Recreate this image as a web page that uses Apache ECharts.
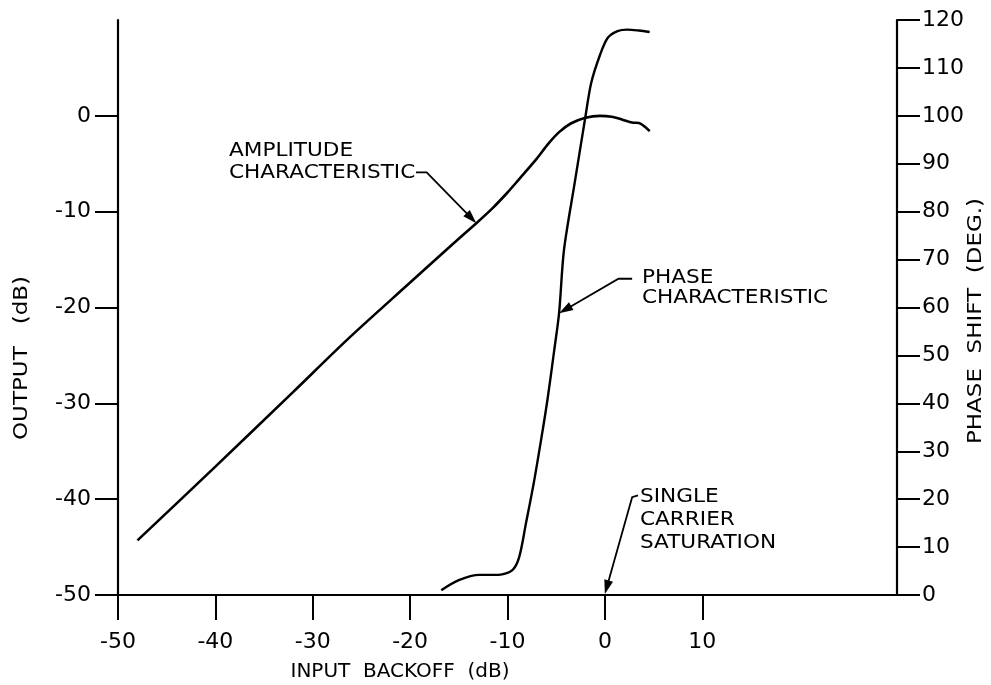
<!DOCTYPE html>
<html>
<head>
<meta charset="utf-8">
<script src="https://cdn.jsdelivr.net/npm/echarts@6/dist/echarts.min.js"></script>
<style>
  html, body { margin: 0; padding: 0; background: #fff; }
  #main { width: 991px; height: 685px; }
</style>
</head>
<body>
<div id="main"></div>
<script>
// ---- data ----
const xTickValues = [-50, -40, -30, -20, -10, 0, 10];
const leftTickValues = [-50, -40, -30, -20, -10, 0];
const rightTickValues = [0, 10, 20, 30, 40, 50, 60, 70, 80, 90, 100, 110, 120];

const amplitudeX = [-48, -40, -32, -26.4, -20, -16.3, -13.2, -11.5, -10, -8.8, -7.1, -5.8, -4.7, -3.5, -2.0, -0.5, 0.7, 1.8, 2.8, 3.5, 4.6];
const amplitudeY = [-44.3, -36.6, -28.8, -23.3, -17.4, -14.0, -11.2, -9.6, -8.0, -6.6, -4.6, -2.9, -1.7, -0.8, -0.2, 0.0, -0.1, -0.4, -0.7, -0.75, -1.6];

const phaseX = [-16.8, -15.0, -12.9, -10.9, -9.5, -8.8, -8.1, -7.3, -6.5, -5.9, -5.2, -4.7, -4.2, -3.1, -2.0, -1.4, -0.5, 0.3, 1.3, 2.3, 3.5, 4.6];
const phaseY = [1.0, 3.1, 4.2, 4.2, 5.2, 7.9, 15.0, 23.4, 33.0, 40.7, 51.1, 58.9, 72.0, 86.0, 99.8, 106.9, 112.7, 116.3, 117.7, 118.0, 117.8, 117.5];

const xTitle = 'INPUT  BACKOFF  (dB)';
const leftTitle = 'OUTPUT   (dB)';
const rightTitle = 'PHASE  SHIFT  (DEG.)';

// annotations: text lines and leader paths in data coordinates (x, left-axis y)
const ampLabel = ['AMPLITUDE', 'CHARACTERISTIC'];
const ampLeader = [[-19.4, -5.9], [-18.3, -5.9], [-13.2, -11.2]];
const ampTextPos = [-38.6, -3.65, -5.95];

const phaseLabel = ['PHASE', 'CHARACTERISTIC'];
const phaseLeader = [[2.8, -17.0], [1.4, -17.0], [-4.7, -20.6]];
const phaseTextPos = [3.8, -16.9, -19.0];

const satLabel = ['SINGLE', 'CARRIER', 'SATURATION'];
const satLeader = [[3.4, -39.6], [2.8, -39.8], [0, -49.9]];
const satTextPos = [3.6, -39.8, -42.2, -44.6];

// ---- chart ----
const FONT = '"DejaVu Sans", "Liberation Sans", sans-serif';
const chart = echarts.init(document.getElementById('main'), null, { renderer: 'canvas' });

const axisLineStyle = { color: '#000', width: 2.2 };
const tickLineStyle = { color: '#000', width: 2 };
const labelStyle = { color: '#000', fontSize: 22, fontFamily: FONT };

chart.setOption({
  animation: false,
  backgroundColor: '#fff',
  grid: { left: 118, right: 94, top: 20, bottom: 90 },
  xAxis: {
    type: 'value', min: -50, max: 30, interval: 10,
    axisLine: { show: true, onZero: false, lineStyle: axisLineStyle },
    axisTick: { show: true, customValues: xTickValues, length: 25, lineStyle: tickLineStyle },
    axisLabel: Object.assign({ customValues: xTickValues, margin: 36 }, labelStyle),
    splitLine: { show: false }
  },
  yAxis: [
    {
      type: 'value', position: 'left', min: -50, max: 10, interval: 10,
      axisLine: { show: true, onZero: false, lineStyle: axisLineStyle },
      axisTick: { show: true, customValues: leftTickValues, length: 23, lineStyle: tickLineStyle },
      axisLabel: Object.assign({ customValues: leftTickValues, margin: 27 }, labelStyle),
      splitLine: { show: false }
    },
    {
      type: 'value', position: 'right', min: 0, max: 120, interval: 10,
      axisLine: { show: true, onZero: false, lineStyle: axisLineStyle },
      axisTick: { show: true, customValues: rightTickValues, length: 23, lineStyle: tickLineStyle },
      axisLabel: Object.assign({ customValues: rightTickValues, margin: 25 }, labelStyle),
      splitLine: { show: false }
    }
  ],
  series: [
    {
      name: 'Amplitude characteristic', type: 'line', xAxisIndex: 0, yAxisIndex: 0,
      data: amplitudeX.map((x, i) => [x, amplitudeY[i]]),
      smooth: 0.3, showSymbol: false, silent: true,
      lineStyle: { color: '#000', width: 2.6 }
    },
    {
      name: 'Phase characteristic', type: 'line', xAxisIndex: 0, yAxisIndex: 1,
      data: phaseX.map((x, i) => [x, phaseY[i]]),
      smooth: 0.3, showSymbol: false, silent: true,
      lineStyle: { color: '#000', width: 2.4 }
    }
  ]
});

function px(p) { return chart.convertToPixel({ xAxisIndex: 0, yAxisIndex: 0 }, p); }

function leader(path) {
  const pts = path.map(px);
  const tip = pts[pts.length - 1];
  const prev = pts[pts.length - 2];
  const dx = tip[0] - prev[0], dy = tip[1] - prev[1];
  const len = Math.sqrt(dx * dx + dy * dy);
  const ux = dx / len, uy = dy / len;
  const L = 14, W = 4.5;
  const bx = tip[0] - ux * L, by = tip[1] - uy * L;
  const linePts = pts.slice(0, -1).concat([[bx + ux * 2, by + uy * 2]]);
  return [
    { type: 'polyline', silent: true, shape: { points: linePts }, style: { stroke: '#000', lineWidth: 1.8, fill: null } },
    { type: 'polygon', silent: true, shape: { points: [tip, [bx - uy * W, by + ux * W], [bx + uy * W, by - ux * W]] }, style: { fill: '#000' } }
  ];
}

function textLines(lines, pos) {
  const out = [];
  lines.forEach((t, i) => {
    const p = px([pos[0], pos[i + 1]]);
    out.push({ type: 'text', silent: true, x: p[0], y: p[1], scaleX: 1.08,
      style: { text: t, fill: '#000', font: '20px ' + FONT, align: 'left', verticalAlign: 'middle' } });
  });
  return out;
}

const g = [];
g.push(...leader(ampLeader), ...textLines(ampLabel, ampTextPos));
g.push(...leader(phaseLeader), ...textLines(phaseLabel, phaseTextPos));
g.push(...leader(satLeader), ...textLines(satLabel, satTextPos));

// axis titles
g.push({ type: 'text', silent: true, x: 400, y: 672,
  style: { text: xTitle, fill: '#000', font: '20px ' + FONT, align: 'center', verticalAlign: 'middle' } });
g.push({ type: 'text', silent: true, x: 22, y: 358, rotation: Math.PI / 2, scaleX: 1.15,
  style: { text: leftTitle, fill: '#000', font: '20px ' + FONT, align: 'center', verticalAlign: 'middle' } });
g.push({ type: 'text', silent: true, x: 976, y: 321, rotation: Math.PI / 2, scaleX: 1.15,
  style: { text: rightTitle, fill: '#000', font: '20px ' + FONT, align: 'center', verticalAlign: 'middle' } });

chart.setOption({ graphic: g });
</script>
</body>
</html>
